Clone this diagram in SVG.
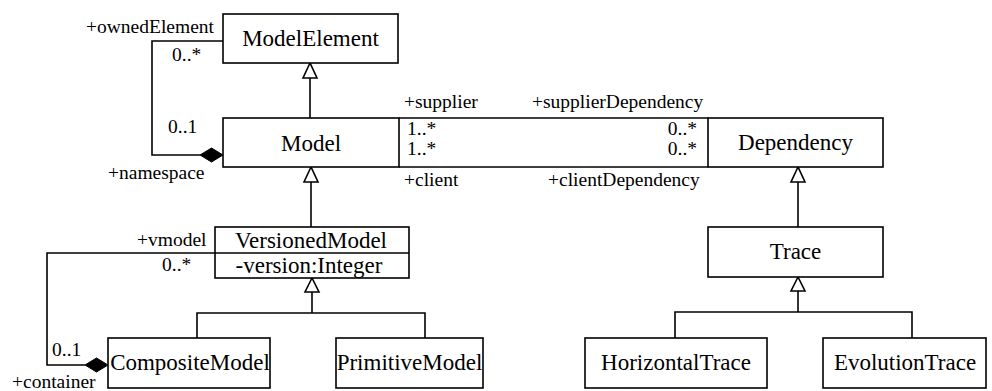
<svg xmlns="http://www.w3.org/2000/svg" width="992" height="391" viewBox="0 0 992 391">
<defs>
<style>
.box{fill:#fff;stroke:#000;stroke-width:1.6}
.ln{fill:none;stroke:#000;stroke-width:1.6}
.tri{fill:#fff;stroke:#000;stroke-width:1.6;stroke-linejoin:miter}
.dia{fill:#000;stroke:#000;stroke-width:1}
.nm{font-family:"Liberation Serif","Times New Roman",serif;font-size:23px;fill:#000;text-anchor:middle}
.lb{font-family:"Liberation Serif","Times New Roman",serif;font-size:19.5px;fill:#000}
</style>
</defs>
<rect width="992" height="391" fill="#fff"/>
<g id="connectors">
<polyline class="ln" points="223,41 152,41 152,155 200,155"/>
<polygon class="dia" points="223,155 211.5,148 200,155 211.5,162"/>
<polyline class="ln" points="215,253 47,253 47,365 85,365"/>
<polygon class="dia" points="108,365 96.5,358 85,365 96.5,372"/>
<line class="ln" x1="310" y1="118" x2="310" y2="78"/>
<polygon class="tri" points="310,63 303,78 317,78"/>
<line class="ln" x1="311" y1="227" x2="311" y2="182"/>
<polygon class="tri" points="311,167 304,182 318,182"/>
<polyline class="ln" points="197,338 197,313 425,313 425,338"/>
<line class="ln" x1="312" y1="313" x2="312" y2="292"/>
<polygon class="tri" points="312,278 305,292 319,292"/>
<line class="ln" x1="399" y1="118" x2="708" y2="118"/>
<line class="ln" x1="399" y1="167" x2="708" y2="167"/>
<line class="ln" x1="798" y1="227" x2="798" y2="182"/>
<polygon class="tri" points="798,167 791,182 805,182"/>
<polyline class="ln" points="675,338 675,312 912,312 912,338"/>
<line class="ln" x1="798" y1="312" x2="798" y2="291"/>
<polygon class="tri" points="798,277 791,291 805,291"/>
<text class="lb" x="86" y="33">+ownedElement</text>
<text class="lb" x="172" y="61">0..*</text>
<text class="lb" x="168" y="133">0..1</text>
<text class="lb" x="108" y="179">+namespace</text>
<text class="lb" x="404" y="108">+supplier</text>
<text class="lb" x="532" y="108">+supplierDependency</text>
<text class="lb" x="407" y="135">1..*</text>
<text class="lb" x="407" y="155">1..*</text>
<text class="lb" x="697" y="135" text-anchor="end">0..*</text>
<text class="lb" x="697" y="155" text-anchor="end">0..*</text>
<text class="lb" x="404" y="186">+client</text>
<text class="lb" x="548" y="186">+clientDependency</text>
<text class="lb" x="137" y="246">+vmodel</text>
<text class="lb" x="162" y="271">0..*</text>
<text class="lb" x="52" y="356">0..1</text>
<text class="lb" x="12" y="388">+container</text>
</g>
<g id="ModelElement">
<rect class="box" x="223" y="14" width="175" height="49"/>
<text class="nm" x="310.5" y="46">ModelElement</text>
</g>
<g id="Model">
<rect class="box" x="223" y="118" width="176" height="49"/>
<text class="nm" x="311" y="151">Model</text>
</g>
<g id="Dependency">
<rect class="box" x="708" y="118" width="175" height="49"/>
<text class="nm" x="795.5" y="150">Dependency</text>
</g>
<g id="VersionedModel">
<rect class="box" x="215" y="227" width="194" height="51"/>
<line class="ln" x1="215" y1="253" x2="409" y2="253"/>
<text class="nm" x="311" y="248">VersionedModel</text>
<text class="nm" x="309" y="273">-version:Integer</text>
</g>
<g id="Trace">
<rect class="box" x="708" y="227" width="175" height="50"/>
<text class="nm" x="795.5" y="259">Trace</text>
</g>
<g id="CompositeModel">
<rect class="box" x="108" y="338" width="162" height="50"/>
<text class="nm" x="190" y="370">CompositeModel</text>
</g>
<g id="PrimitiveModel">
<rect class="box" x="336" y="338" width="147" height="50"/>
<text class="nm" x="409.5" y="370">PrimitiveModel</text>
</g>
<g id="HorizontalTrace">
<rect class="box" x="585" y="338" width="182" height="50"/>
<text class="nm" x="676" y="370">HorizontalTrace</text>
</g>
<g id="EvolutionTrace">
<rect class="box" x="823" y="338" width="163" height="50"/>
<text class="nm" x="905" y="370">EvolutionTrace</text>
</g>
</svg>
